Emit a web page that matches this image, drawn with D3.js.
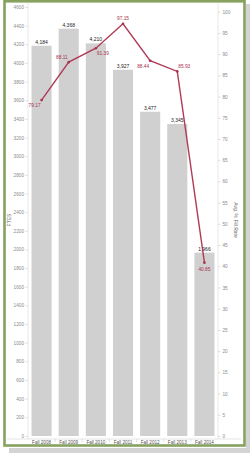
<!DOCTYPE html>
<html>
<head>
<meta charset="utf-8">
<script src="https://cdn.jsdelivr.net/npm/d3@7"></script>
<style>
body { margin: 0; background: #fff; }
svg { display: block; font-family: "Liberation Sans", Arial, sans-serif; }
</style>
</head>
<body>
<svg id="chart" width="250" height="453"></svg>
<script>
var terms = ['Fall 2008', 'Fall 2009', 'Fall 2010', 'Fall 2011', 'Fall 2012', 'Fall 2013', 'Fall 2014'];
var ftes = [4184, 4368, 4210, 3927, 3477, 3345, 1966];
var fillRate = [79.17, 88.11, 91.39, 97.15, 88.44, 85.93, 40.85];
var ftesTicks = d3.range(0, 4601, 200);
var rateTicks = d3.range(0, 101, 5);
// where each rate label sits relative to its point
var labelPos = ['bl', 'al', 'br', 'a', 'bl', 'ar', 'b'];

var svg = d3.select('#chart');

// shadow + green frame
svg.append('rect').attr('x', 9).attr('y', 448).attr('width', 241).attr('height', 5).style('fill', '#d4d4d4');
svg.append('rect').attr('x', 246).attr('y', 4).attr('width', 4).attr('height', 449).style('fill', '#d4d4d4');
svg.append('rect').attr('x', 4.5).attr('y', 1.3).attr('width', 240).attr('height', 444.2)
	.style('fill', '#fff').style('stroke', '#86a25e').style('stroke-width', 2.6);

var x = d3.scaleBand().domain(terms).range([28, 218]).paddingInner(0.26).paddingOuter(0.13);
var yL = d3.scaleLinear().domain([0, 4600]).range([436, 7]);
var yR = d3.scaleLinear().domain([0, 100]).range([436, 11.7]);

// axis lines
svg.append('line').attr('x1', 7).attr('x2', 241).attr('y1', 439).attr('y2', 439).style('stroke', '#ddd').style('stroke-width', 0.8);
svg.append('line').attr('x1', 28).attr('x2', 28).attr('y1', 3).attr('y2', 439).style('stroke', '#e2e2e2').style('stroke-width', 0.8);
svg.append('line').attr('x1', 218).attr('x2', 218).attr('y1', 3).attr('y2', 439).style('stroke', '#e2e2e2').style('stroke-width', 0.8);

function styleAxis(g) {
	g.select('.domain').remove();
	g.selectAll('.tick line').style('stroke', '#ccc').style('stroke-width', 0.6);
	g.selectAll('.tick text').style('fill', '#8a8a8a').style('font-size', '4.7px').style('font-family', '"Liberation Sans", Arial, sans-serif');
}

svg.append('g').attr('transform', 'translate(28,0)')
	.call(d3.axisLeft(yL).tickValues(ftesTicks).tickSize(2.5).tickPadding(1.5).tickFormat(d3.format('d')))
	.call(styleAxis);
svg.append('g').attr('transform', 'translate(218,0)')
	.call(d3.axisRight(yR).tickValues(rateTicks).tickSize(2.5).tickPadding(2))
	.call(styleAxis);

// x labels + band ticks
var xa = svg.append('g');
terms.forEach(function(t, i) {
	xa.append('text').text(t).attr('x', x(t) + x.bandwidth() / 2).attr('y', 444)
		.style('text-anchor', 'middle').style('font-size', '4.6px').style('fill', '#555');
	if (i > 0) {
		var bx = x(t) - x.step() * x.paddingInner() / 2;
		xa.append('line').attr('x1', bx).attr('x2', bx).attr('y1', 439).attr('y2', 442).style('stroke', '#ccc').style('stroke-width', 0.6);
	}
});

// axis titles
svg.append('text').text('FTES').attr('transform', 'translate(11,220) rotate(-90)')
	.style('text-anchor', 'middle').style('font-size', '5px').style('fill', '#666');
svg.append('text').text('Avg. % Fill Rate').attr('transform', 'translate(234,220) rotate(90)')
	.style('text-anchor', 'middle').style('font-size', '5px').style('fill', '#666');

// bars
svg.selectAll('rect.bar').data(ftes).enter().append('rect').attr('class', 'bar')
	.attr('x', function(d, i) { return x(terms[i]); })
	.attr('y', function(d) { return yL(d); })
	.attr('width', x.bandwidth())
	.attr('height', function(d) { return yL(0) - yL(d); })
	.style('fill', '#d0d0d0');

svg.selectAll('text.barlab').data(ftes).enter().append('text').attr('class', 'barlab')
	.text(d3.format(','))
	.attr('x', function(d, i) { return x(terms[i]) + x.bandwidth() / 2; })
	.attr('y', function(d) { return yL(d) - 2; })
	.style('text-anchor', 'middle').style('font-size', '5px').style('fill', '#222');

// fill rate line
var cx = function(d, i) { return x(terms[i]) + x.bandwidth() / 2; };
var line = d3.line().x(cx).y(function(d) { return yR(d); });
svg.append('path').datum(fillRate).attr('d', line)
	.style('fill', 'none').style('stroke', '#b03a55').style('stroke-width', 1.4);
svg.selectAll('circle.pt').data(fillRate).enter().append('circle').attr('class', 'pt')
	.attr('cx', cx).attr('cy', function(d) { return yR(d); }).attr('r', 1.3).style('fill', '#a8304c');

svg.selectAll('text.ratelab').data(fillRate).enter().append('text').attr('class', 'ratelab')
	.text(function(d) { return d.toFixed(2); })
	.each(function(d, i) {
		var p = labelPos[i], px = cx(d, i), py = yR(d);
		var s = d3.select(this), anchor = 'middle', dx = 0, dy = 0;
		if (p == 'bl') { anchor = 'end'; dx = -1; dy = 7; }
		if (p == 'al') { anchor = 'end'; dx = -1; dy = -3; }
		if (p == 'br') { anchor = 'start'; dx = 1; dy = 7; }
		if (p == 'ar') { anchor = 'start'; dx = 1; dy = -3; }
		if (p == 'a') { dy = -3.5; }
		if (p == 'b') { dy = 8; }
		s.attr('x', px + dx).attr('y', py + dy).style('text-anchor', anchor);
	})
	.style('font-size', '4.8px').style('fill', '#a8304c');
</script>
</body>
</html>
